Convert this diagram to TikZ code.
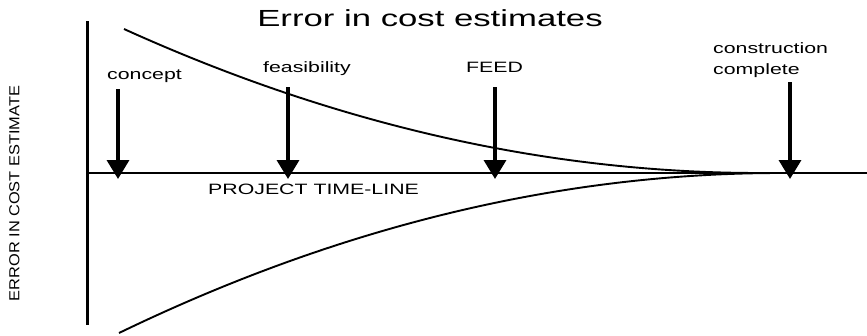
\documentclass[tikz,border=0pt]{standalone}
\usepackage{fontspec}
\setmainfont{Liberation Sans}
\usetikzlibrary{arrows.meta}
\begin{document}
\begin{tikzpicture}[x=1pt,y=-1pt,
  lbl/.style={inner sep=0pt, anchor=base west, font=\fontsize{15}{18}\selectfont},
  marker/.style={line width=3.5pt, -{Triangle[width=22pt,length=19pt]}},
  curve/.style={line width=1.9pt, line join=round},
]
\useasboundingbox (0,0) rectangle (867,335);

% title
\node[inner sep=0pt, anchor=base, font=\fontsize{23.3}{28}\selectfont] (title) at (430,26) {\scalebox{1.49}[1]{Error in cost estimates}};

% vertical axis and time line
\coordinate (axtop) at (87,21);
\coordinate (axbot) at (87,325);
\draw[line width=3pt] (axtop) -- (axbot);
\coordinate (tlstart) at (87,173);
\coordinate (tlend) at (867,173);
\draw[line width=2pt] (tlstart) -- (tlend);

% vertical label
\node[inner sep=0pt, anchor=base, rotate=90, font=\fontsize{14.5}{17}\selectfont] (ylabel) at (19.3,193.5) {\scalebox{1.13}[1]{ERROR IN COST ESTIMATE}};

% time line label
\node[lbl] (tl) at (208,194.3) {\scalebox{1.42}[1]{PROJECT TIME-LINE}};

% error envelope
\coordinate (u0) at (124,29);
\coordinate (u1) at (760,173);
\coordinate (l0) at (119,333);
\coordinate (l1) at (781,173);
\coordinate (cend) at (833,173);
\draw[curve] (u0) .. controls (336,125) and (548,173) .. (u1) -- (cend);
\draw[curve] (l0) .. controls (339.7,226.3) and (560.3,173) .. (l1) -- (cend);

% milestones
\node[lbl] (concept) at (107,79) {\scalebox{1.42}[1]{concept}};
\node[lbl] (feas) at (263,72.3) {\scalebox{1.42}[1]{feasibility}};
\node[lbl] (feed) at (466,72.3) {\scalebox{1.42}[1]{FEED}};
\node[lbl] (constr) at (713,53.3) {\scalebox{1.42}[1]{construction}};
\node[lbl] (compl) at (713,74.3) {\scalebox{1.42}[1]{complete}};

\coordinate (a1s) at (118,89);  \coordinate (a1e) at (118,179);
\coordinate (a2s) at (288,87);  \coordinate (a2e) at (288,179);
\coordinate (a3s) at (495,87);  \coordinate (a3e) at (495,179);
\coordinate (a4s) at (790,82);  \coordinate (a4e) at (790,179);
\draw[marker] (a1s) -- (a1e);
\draw[marker] (a2s) -- (a2e);
\draw[marker] (a3s) -- (a3e);
\draw[marker] (a4s) -- (a4e);
\end{tikzpicture}
\end{document}
